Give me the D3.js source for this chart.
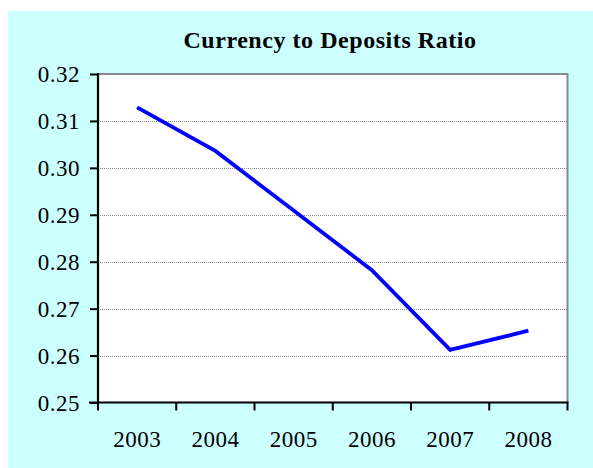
<!DOCTYPE html>
<html>
<head>
<meta charset="utf-8">
<script src="https://cdn.jsdelivr.net/npm/d3@7"></script>
<style>
  html, body { margin: 0; padding: 0; background: #ffffff; }
  svg { display: block; }
</style>
</head>
<body>
<svg id="chart" width="593" height="468"></svg>
<script>
const years = ["2003", "2004", "2005", "2006", "2007", "2008"];
const ratio = [0.3129, 0.3036, 0.2909, 0.2782, 0.2612, 0.2653];
const yTicks = [0.25, 0.26, 0.27, 0.28, 0.29, 0.30, 0.31, 0.32];
const titleText = "Currency to Deposits Ratio";

const svg = d3.select("#chart");
const W = 593, H = 468;
const plot = { left: 98, right: 567.5, top: 74, bottom: 402.5 };

// background
svg.append("rect").attr("x", 8).attr("y", 11).attr("width", W - 8).attr("height", H - 11)
  .attr("fill", "#ccffff");

const x = d3.scaleBand().domain(years).range([plot.left, plot.right]).padding(0);
const y = d3.scaleLinear().domain([0.25, 0.32]).range([plot.bottom, plot.top]);

// plot area
svg.append("rect").attr("x", plot.left).attr("y", plot.top)
  .attr("width", plot.right - plot.left).attr("height", plot.bottom - plot.top)
  .attr("fill", "#ffffff");

// gridlines
svg.append("g").selectAll("line").data(yTicks.filter(v => v > 0.25 && v < 0.32)).join("line")
  .attr("x1", plot.left).attr("x2", plot.right)
  .attr("y1", d => Math.round(y(d)) + 0.5).attr("y2", d => Math.round(y(d)) + 0.5)
  .attr("stroke", "#8a8a8a").attr("stroke-width", 1).attr("stroke-dasharray", "1,1");

// top & right border (gray)
svg.append("path")
  .attr("d", `M${plot.left},${plot.top}H${plot.right}V${plot.bottom}`)
  .attr("fill", "none").attr("stroke", "#888888").attr("stroke-width", 2);

// left axis
const yAxis = d3.axisLeft(y).tickValues(yTicks).tickFormat(d3.format(".2f")).tickSize(8).tickPadding(10);
const gy = svg.append("g").attr("transform", `translate(${plot.left},0)`).call(yAxis);
gy.select(".domain").attr("stroke", "#000").attr("stroke-width", 2.2).attr("d", `M0,${plot.top - 1}V${plot.bottom + 1}`);
gy.selectAll(".tick line").attr("stroke", "#000").attr("stroke-width", 2);
gy.selectAll(".tick text")
  .attr("font-family", "'Liberation Serif', 'Times New Roman', serif")
  .attr("font-size", 23).attr("fill", "#000")
  .attr("letter-spacing", "0.5px")
  .attr("dy", "0.33em");

// bottom axis
const xAxis = d3.axisBottom(x).tickSize(0).tickPadding(28);
const gx = svg.append("g").attr("transform", `translate(0,${plot.bottom})`).call(xAxis);
gx.select(".domain").attr("stroke", "#000").attr("stroke-width", 2.2).attr("d", `M${plot.left - 9},0H${plot.right + 1}`);
gx.selectAll(".tick text")
  .attr("font-family", "'Liberation Serif', 'Times New Roman', serif")
  .attr("font-size", 23).attr("fill", "#000")
  .attr("letter-spacing", "0.5px")
  .attr("dy", "0.72em");

// category boundary ticks
const bounds = years.map(c => x(c)).concat([x.range()[1]]);
svg.append("g").selectAll("line").data(bounds).join("line")
  .attr("x1", d => d).attr("x2", d => d)
  .attr("y1", plot.bottom).attr("y2", plot.bottom + 8)
  .attr("stroke", "#000").attr("stroke-width", 2);

// line
const line = d3.line()
  .x((d, i) => x(years[i]) + x.bandwidth() / 2)
  .y(d => y(d));
svg.append("path").datum(ratio)
  .attr("d", line)
  .attr("fill", "none").attr("stroke", "#0000ff").attr("stroke-width", 3.8)
  .attr("stroke-linejoin", "miter");

// title
svg.append("text")
  .attr("x", 330).attr("y", 47.5)
  .attr("text-anchor", "middle")
  .attr("font-family", "'Liberation Serif', 'Times New Roman', serif")
  .attr("font-weight", "bold").attr("font-size", 24)
  .attr("letter-spacing", "0.55px")
  .attr("fill", "#000")
  .text(titleText);
</script>
</body>
</html>
